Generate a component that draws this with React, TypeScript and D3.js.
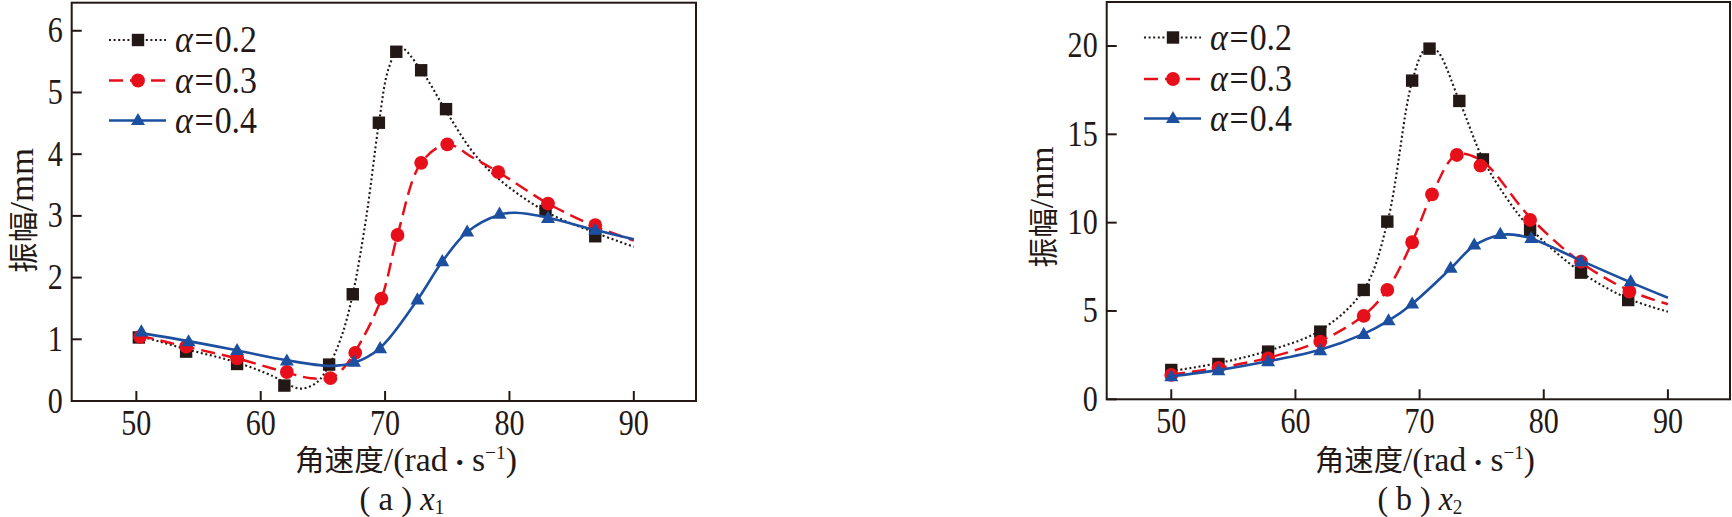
import React from "react";
import * as d3 from "d3";

// ---------- data ----------
const xTicks = [50, 60, 70, 80, 90];
const yTicksA = [0, 1, 2, 3, 4, 5, 6];
const yTicksB = [0, 5, 10, 15, 20];
const seriesLabels = ["0.2", "0.3", "0.4"];

// panel (a) x1 — markers
const a02X = [50.2, 54, 58.1, 61.9, 65.5, 67.4, 69.5, 70.9, 72.9, 74.9, 82.9, 86.9];
const a02Y = [1.03, 0.8, 0.6, 0.25, 0.59, 1.73, 4.51, 5.66, 5.36, 4.73, 3.08, 2.67];
const a03X = [50.3, 54, 58.1, 62.1, 65.6, 67.6, 69.7, 71.0, 72.9, 75.0, 79.1, 83.1, 86.9];
const a03Y = [1.04, 0.88, 0.69, 0.47, 0.37, 0.78, 1.66, 2.69, 3.86, 4.16, 3.71, 3.2, 2.85];
const a04X = [50.4, 54.2, 58.1, 62.1, 67.5, 69.6, 72.6, 74.6, 76.6, 79.2, 83.1, 86.9];
const a04Y = [1.12, 0.96, 0.82, 0.65, 0.63, 0.85, 1.64, 2.26, 2.74, 3.03, 2.96, 2.77];

// panel (a) x1 — fitted curves
const a02CurveX = [50.2, 54, 58, 61, 62, 63.2, 64.5, 65.5, 66.5, 67.4, 68.5, 69.5, 70.3, 71.2, 72.9, 74.9, 77, 79, 83, 87, 90];
const a02CurveY = [1.06, 0.84, 0.63, 0.4, 0.29, 0.2, 0.3, 0.58, 1.05, 1.73, 3.0, 4.5, 5.4, 5.73, 5.36, 4.7, 4.05, 3.62, 3.06, 2.72, 2.5];
const a03CurveX = [50.3, 54, 58.1, 62.1, 64, 65.6, 66.6, 67.6, 69.7, 71, 72.9, 75, 77, 79.1, 83.1, 86.9, 90];
const a03CurveY = [1.06, 0.88, 0.69, 0.46, 0.37, 0.37, 0.52, 0.8, 1.66, 2.69, 3.86, 4.16, 3.95, 3.71, 3.2, 2.83, 2.6];
const a04CurveX = [50.4, 54.2, 58.1, 62.1, 65.5, 67.5, 69.6, 72.6, 74.6, 76.6, 79.2, 80.5, 83.1, 86.9, 90];
const a04CurveY = [1.1, 0.97, 0.82, 0.66, 0.57, 0.62, 0.86, 1.64, 2.26, 2.74, 3.02, 3.05, 2.97, 2.77, 2.62];

// panel (b) x2 — markers
const b02X = [50, 53.8, 57.8, 62, 65.5, 67.4, 69.4, 70.8, 73.2, 75.1, 78.9, 83, 86.8];
const b02Y = [1.66, 2.0, 2.7, 3.83, 6.19, 10.06, 18.04, 19.85, 16.89, 13.58, 9.58, 7.17, 5.62];
const b03X = [50, 53.8, 57.8, 62, 65.5, 67.4, 69.4, 71, 73, 74.9, 78.9, 83, 86.9];
const b03Y = [1.38, 1.78, 2.32, 3.26, 4.72, 6.19, 8.89, 11.6, 13.83, 13.23, 10.15, 7.79, 6.09];
const b04X = [50, 53.8, 57.8, 62, 65.5, 67.5, 69.4, 72.5, 74.4, 76.5, 79, 83, 87];
const b04Y = [1.28, 1.62, 2.13, 2.75, 3.68, 4.45, 5.4, 7.42, 8.74, 9.34, 9.11, 7.79, 6.66];

// panel (b) x2 — fitted curves
const b02CurveX = [50, 53.8, 57.8, 62, 65.5, 67.4, 69.4, 70.5, 71.3, 73.2, 75.1, 77, 78.9, 83, 86.8, 90];
const b02CurveY = [1.6, 2.05, 2.75, 3.9, 6.2, 10.0, 18.0, 19.85, 19.8, 16.9, 13.6, 11.4, 9.7, 7.2, 5.7, 4.96];
const b03CurveX = [50, 53.8, 57.8, 62, 65.5, 67.4, 69.4, 71, 73, 75, 78.9, 83, 86.9, 90];
const b03CurveY = [1.4, 1.78, 2.35, 3.3, 4.75, 6.2, 8.9, 11.6, 13.85, 13.5, 10.3, 7.75, 6.15, 5.38];
const b04CurveX = [50, 53.8, 57.8, 62, 65.5, 67.5, 69.4, 72.5, 74.4, 76.5, 77.5, 79, 83, 87, 90];
const b04CurveY = [1.3, 1.65, 2.15, 2.8, 3.7, 4.45, 5.4, 7.4, 8.7, 9.3, 9.32, 9.1, 7.85, 6.62, 5.75];

// ---------- styles ----------
const INK = "#231815";
const RED = "#e60f1a";
const BLUE = "#1c4f9f";
const LATIN = "'Liberation Serif', Tinos, 'Times New Roman', 'DejaVu Serif', serif";
const CJK = "'Noto Sans CJK SC', 'Noto Sans CJK JP', sans-serif";

type Series = {
  mx: number[]; my: number[]; cx: number[]; cy: number[];
  color: string; dash: string; width: number; marker: "square" | "circle" | "triangle";
};

function Marker({ kind, x, y, color }: { kind: string; x: number; y: number; color: string }) {
  if (kind === "square") return <rect x={x - 6.2} y={y - 6.2} width={12.4} height={12.4} fill={color} />;
  if (kind === "circle") return <circle cx={x} cy={y} r={6.9} fill={color} />;
  const s = 14;
  const h = s * 0.866;
  return <path d={`M${x},${y - h * 0.62}L${x + s / 2},${y + h * 0.38}L${x - s / 2},${y + h * 0.38}Z`} fill={color} />;
}

function Panel(props: {
  left: number; right: number; top: number; bottom: number; yMax: number;
  yTicks: number[]; series: Series[]; yLabelX: number; yLabelY: number; yLabelLen: number;
  legendX: number; legendRows: number[]; letter: string; sub: string;
  xLabelX: number; xLabelLen: number; subX: number;
}) {
  const { left, right, top, bottom, yMax, yTicks, series } = props;
  const x = d3.scaleLinear().domain([44.8, 95]).range([left, right]);
  const y = d3.scaleLinear().domain([0, yMax]).range([bottom, top]);
  const line = d3.line<[number, number]>()
    .x((d) => x(d[0]))
    .y((d) => y(d[1]))
    .curve(d3.curveCatmullRom.alpha(0.5));
  const SX = 0.86;
  return (
    <g>
      {series.map((s, i) => (
        <g key={i}>
          <path
            d={line(s.cx.map((v, j) => [v, s.cy[j]] as [number, number])) || ""}
            fill="none" stroke={s.color} strokeWidth={s.width} strokeDasharray={s.dash}
          />
          {s.mx.map((v, j) => (
            <Marker key={j} kind={s.marker} x={x(v)} y={y(s.my[j])} color={s.color} />
          ))}
        </g>
      ))}
      {/* frame */}
      <rect x={left} y={top} width={right - left} height={bottom - top} fill="none" stroke={INK} strokeWidth={2} />
      {xTicks.map((t) => (
        <g key={t}>
          <line x1={x(t)} x2={x(t)} y1={bottom} y2={bottom - 10} stroke={INK} strokeWidth={2} />
          <text transform={`translate(${x(t)},${bottom + 34}) scale(${SX},1)`} textAnchor="middle"
            style={{ fontFamily: LATIN }} fontSize={35} fill={INK}>{t}</text>
        </g>
      ))}
      {yTicks.map((t) => (
        <g key={t}>
          <line x1={left} x2={left + 10} y1={y(t)} y2={y(t)} stroke={INK} strokeWidth={2} />
          <text transform={`translate(${left - 9},${y(t) + 11.5}) scale(${SX},1)`} textAnchor="end"
            style={{ fontFamily: LATIN }} fontSize={35} fill={INK}>{t}</text>
        </g>
      ))}
      {/* axis labels */}
      <text x={props.xLabelX} y={471} textAnchor="middle" textLength={props.xLabelLen} lengthAdjust="spacingAndGlyphs"
        style={{ fontFamily: LATIN }} fontSize={33} fill={INK}>
        <tspan style={{ fontFamily: CJK }} fontSize={29}>角速度</tspan>/(rad<tspan style={{ fontFamily: CJK }} fontSize={24}>•</tspan>s<tspan dy={-12} fontSize={19}>−1</tspan><tspan dy={12}>)</tspan>
      </text>
      <text x={props.subX} y={510} textAnchor="middle" textLength={85} lengthAdjust="spacingAndGlyphs"
        style={{ fontFamily: LATIN }} fontSize={33} fill={INK}>
        ( {props.letter} ) <tspan fontStyle="italic">x</tspan><tspan fontSize={20} dy={4}>{props.sub}</tspan>
      </text>
      <text
        transform={`translate(${props.yLabelX},${props.yLabelY}) rotate(-90)`}
        x={0} y={0} textAnchor="middle" dominantBaseline="central" textLength={props.yLabelLen} lengthAdjust="spacingAndGlyphs"
        style={{ fontFamily: LATIN }} fontSize={34} fill={INK}
      ><tspan style={{ fontFamily: CJK }} fontSize={30}>振幅</tspan>/mm</text>
      {/* legend */}
      {series.map((s, i) => {
        const ly = props.legendRows[i];
        const lx = props.legendX;
        return (
          <g key={"lg" + i}>
            <line x1={lx} x2={lx + 57} y1={ly} y2={ly} stroke={s.color} strokeWidth={s.width} strokeDasharray={s.dash} />
            <Marker kind={s.marker} x={lx + 29} y={ly} color={s.color} />
            <text x={lx + 66} y={ly + 12} textLength={82} lengthAdjust="spacingAndGlyphs"
              style={{ fontFamily: LATIN }} fontSize={37} fill={INK}>
              <tspan fontStyle="italic">α</tspan><tspan dx={2}>=</tspan><tspan dx={1}>{seriesLabels[i]}</tspan>
            </text>
          </g>
        );
      })}
    </g>
  );
}

export default function App() {
  const mk = (mx: number[], my: number[], cx: number[], cy: number[], i: number): Series => ({
    mx, my, cx, cy,
    color: [INK, RED, BLUE][i],
    dash: ["2,2.6", "14,7", ""][i],
    width: [2.1, 2.5, 2.6][i],
    marker: (["square", "circle", "triangle"] as const)[i],
  });
  const seriesA = [
    mk(a02X, a02Y, a02CurveX, a02CurveY, 0),
    mk(a03X, a03Y, a03CurveX, a03CurveY, 1),
    mk(a04X, a04Y, a04CurveX, a04CurveY, 2),
  ];
  const seriesB = [
    mk(b02X, b02Y, b02CurveX, b02CurveY, 0),
    mk(b03X, b03Y, b03CurveX, b03CurveY, 1),
    mk(b04X, b04Y, b04CurveX, b04CurveY, 2),
  ];
  return (
    <svg width={1732} height={517} style={{ position: "absolute", left: 0, top: 0, background: "#fff" }}>
      <rect width={1732} height={517} fill="#fff" />
      <Panel left={71.7} right={696} top={2.7} bottom={401} yMax={6.455} yTicks={yTicksA}
        series={seriesA} yLabelX={21} yLabelY={210.5} yLabelLen={125} legendX={109} legendRows={[40, 80.5, 120.5]}
        letter="a" sub="1" xLabelX={406} xLabelLen={222} subX={402} />
      <Panel left={1106.7} right={1730} top={2} bottom={399.3} yMax={22.49} yTicks={yTicksB}
        series={seriesB} yLabelX={1041} yLabelY={207} yLabelLen={121} legendX={1144} legendRows={[37.5, 79, 118.5]}
        letter="b" sub="2" xLabelX={1425} xLabelLen={220} subX={1420} />
    </svg>
  );
}
